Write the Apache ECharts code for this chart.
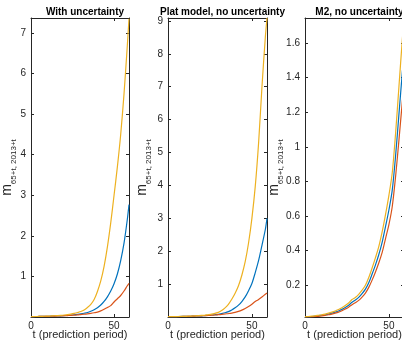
<!DOCTYPE html>
<html>
<head>
<meta charset="utf-8">
<script src="https://cdn.jsdelivr.net/npm/echarts@6/dist/echarts.min.js"></script>
<style>
  html, body { margin: 0; padding: 0; background: #fff; }
  #chart { width: 402px; height: 340px; }
</style>
</head>
<body>
<div id="chart"></div>
<script>
// prediction period t (every 2 years, plus the last one)
const tValues = [0, 2, 4, 6, 8, 10, 12, 14, 16, 18, 20, 22, 24, 26, 28, 30, 32, 34, 36, 38, 40, 42, 44, 46, 48, 50, 52, 54, 56, 58, 59]

// panel 1: with uncertainty
const withBlue = [0.010, 0.0112, 0.0125, 0.014, 0.0156, 0.0174, 0.0198, 0.0226, 0.0257, 0.0293, 0.033, 0.040, 0.046, 0.055, 0.066, 0.078, 0.093, 0.111, 0.141, 0.179, 0.23, 0.295, 0.383, 0.497, 0.64, 0.82, 1.06, 1.39, 1.82, 2.41, 2.77]
const withRed = [0.010, 0.011, 0.0125, 0.014, 0.0155, 0.017, 0.019, 0.022, 0.025, 0.028, 0.032, 0.036, 0.040, 0.046, 0.052, 0.060, 0.068, 0.078, 0.09, 0.104, 0.12, 0.15, 0.19, 0.235, 0.28, 0.37, 0.45, 0.53, 0.64, 0.77, 0.83]
const withYellow = [0.010, 0.0118, 0.0138, 0.0162, 0.019, 0.022, 0.026, 0.031, 0.036, 0.042, 0.050, 0.060, 0.073, 0.090, 0.111, 0.135, 0.174, 0.235, 0.31, 0.43, 0.63, 0.89, 1.25, 1.73, 2.32, 3.0, 3.7, 4.5, 5.5, 6.7, 7.35]

// panel 2: Plat model, no uncertainty
const platBlue = [0.010, 0.0113, 0.0127, 0.0143, 0.016, 0.018, 0.021, 0.024, 0.028, 0.032, 0.037, 0.044, 0.052, 0.06, 0.07, 0.082, 0.104, 0.13, 0.165, 0.215, 0.28, 0.36, 0.47, 0.61, 0.80, 1.02, 1.35, 1.72, 2.18, 2.66, 3.0]
const platRed = [0.010, 0.011, 0.012, 0.0135, 0.015, 0.018, 0.021, 0.024, 0.028, 0.032, 0.037, 0.042, 0.047, 0.054, 0.061, 0.07, 0.08, 0.092, 0.105, 0.12, 0.14, 0.17, 0.21, 0.26, 0.32, 0.39, 0.47, 0.53, 0.61, 0.69, 0.73]
const platYellow = [0.010, 0.0116, 0.0133, 0.0153, 0.0176, 0.020, 0.024, 0.028, 0.034, 0.040, 0.047, 0.058, 0.071, 0.086, 0.111, 0.142, 0.198, 0.278, 0.387, 0.538, 0.72, 0.95, 1.27, 1.68, 2.25, 3.0, 3.97, 5.3, 7.0, 8.5, 9.09]

// panel 3: M2, no uncertainty
const m2Blue = [0.0175, 0.018, 0.02, 0.022, 0.024, 0.027, 0.03, 0.034, 0.039, 0.045, 0.052, 0.061, 0.072, 0.085, 0.102, 0.115, 0.13, 0.152, 0.178, 0.215, 0.265, 0.318, 0.378, 0.45, 0.54, 0.635, 0.75, 0.95, 1.19, 1.43, 1.54]
const m2Red = [0.017, 0.0175, 0.018, 0.02, 0.021, 0.023, 0.026, 0.03, 0.034, 0.039, 0.045, 0.053, 0.063, 0.074, 0.088, 0.1, 0.113, 0.132, 0.155, 0.188, 0.23, 0.277, 0.33, 0.39, 0.47, 0.55, 0.655, 0.83, 1.04, 1.26, 1.35]
const m2Yellow = [0.018, 0.02, 0.022, 0.024, 0.027, 0.03, 0.034, 0.039, 0.045, 0.052, 0.06, 0.07, 0.083, 0.098, 0.118, 0.13, 0.148, 0.172, 0.2, 0.245, 0.30, 0.36, 0.425, 0.51, 0.61, 0.72, 0.85, 1.08, 1.35, 1.62, 1.74]

const titles = ['With uncertainty', 'Plat model, no uncertainty', 'M2, no uncertainty']
const xTicks = [0, 50]
const yTicks1 = [1, 2, 3, 4, 5, 6, 7]
const yTicks2 = [1, 2, 3, 4, 5, 6, 7, 8, 9]
const yTicks3 = [0.2, 0.4, 0.6, 0.8, 1, 1.2, 1.4, 1.6]

const blue = '#0072BD'
const red = '#D95319'
const yellow = '#EDB120'
const axisColor = '#262626'
const font = 'Liberation Sans'

const panels = [
  { left: 31, width: 98, yMin: 0, yMax: 7.37, yTicks: yTicks1, nameGap: 13, series: [withBlue, withRed, withYellow] },
  { left: 168, width: 99, yMin: 0, yMax: 9.09, yTicks: yTicks2, nameGap: 15, series: [platBlue, platRed, platYellow] },
  { left: 305, width: 99, yMin: 0.017, yMax: 1.744, yTicks: yTicks3, nameGap: 20, series: [m2Blue, m2Red, m2Yellow] },
]
const colors = [blue, red, yellow]

const grid = []
const xAxis = []
const yAxis = []
const series = []
const title = []

panels.forEach((p, i) => {
  grid.push({ left: p.left, top: 18, width: p.width, height: 299, containLabel: false, outerBoundsMode: 'none' })
  title.push({
    text: titles[i],
    left: p.left + p.width / 2,
    top: 2,
    textAlign: 'center',
    textStyle: { fontFamily: font, fontSize: 10, fontWeight: 'bold', color: '#000' },
  })
  const line = { show: true, onZero: false, lineStyle: { color: axisColor, width: 1 } }
  const tick = (vals) => ({ show: true, inside: true, length: 3, customValues: vals, lineStyle: { color: axisColor } })
  xAxis.push({
    gridIndex: i, type: 'value', min: 0, max: 59, position: 'bottom',
    axisLine: line, axisTick: tick(xTicks), splitLine: { show: false },
    axisLabel: { customValues: xTicks, color: axisColor, fontFamily: font, fontSize: 10, lineHeight: 8, margin: 5 },
    name: 't (prediction period)', nameLocation: 'middle', nameGap: 13.5, nameMoveOverlap: false,
    nameTextStyle: { color: axisColor, fontFamily: font, fontSize: 11, lineHeight: 9 },
  })
  xAxis.push({
    gridIndex: i, type: 'value', min: 0, max: 59, position: 'top',
    axisLine: line, axisTick: tick(xTicks), axisLabel: { show: false }, splitLine: { show: false },
  })
  yAxis.push({
    gridIndex: i, type: 'value', min: p.yMin, max: p.yMax, position: 'left',
    axisLine: line, axisTick: tick(p.yTicks), splitLine: { show: false },
    axisLabel: { customValues: p.yTicks, color: axisColor, fontFamily: font, fontSize: 10, margin: 5 },
    name: '{m|m}{s|65+t, 2013+t}', nameLocation: 'middle', nameRotate: 90, nameGap: p.nameGap, nameMoveOverlap: false,
    nameTextStyle: {
      color: axisColor, fontFamily: font,
      rich: {
        m: { fontSize: 14, lineHeight: 18, verticalAlign: 'top', color: axisColor, fontFamily: font },
        s: { fontSize: 8, lineHeight: 8, verticalAlign: 'bottom', color: axisColor, fontFamily: font },
      },
    },
  })
  yAxis.push({
    gridIndex: i, type: 'value', min: p.yMin, max: p.yMax, position: 'right',
    axisLine: line, axisTick: tick(p.yTicks), axisLabel: { show: false }, splitLine: { show: false },
  })
  p.series.forEach((vals, k) => {
    series.push({
      type: 'line',
      xAxisIndex: i * 2,
      yAxisIndex: i * 2,
      data: tValues.map((t, j) => [t, vals[j]]),
      showSymbol: false,
      smooth: 0.3,
      lineStyle: { color: colors[k], width: 1.2 },
      itemStyle: { color: colors[k] },
      clip: true,
    })
  })
})

const chart = echarts.init(document.getElementById('chart'), null, { renderer: 'canvas' })
chart.setOption({
  animation: false,
  title,
  grid,
  xAxis,
  yAxis,
  series,
})
</script>
</body>
</html>
